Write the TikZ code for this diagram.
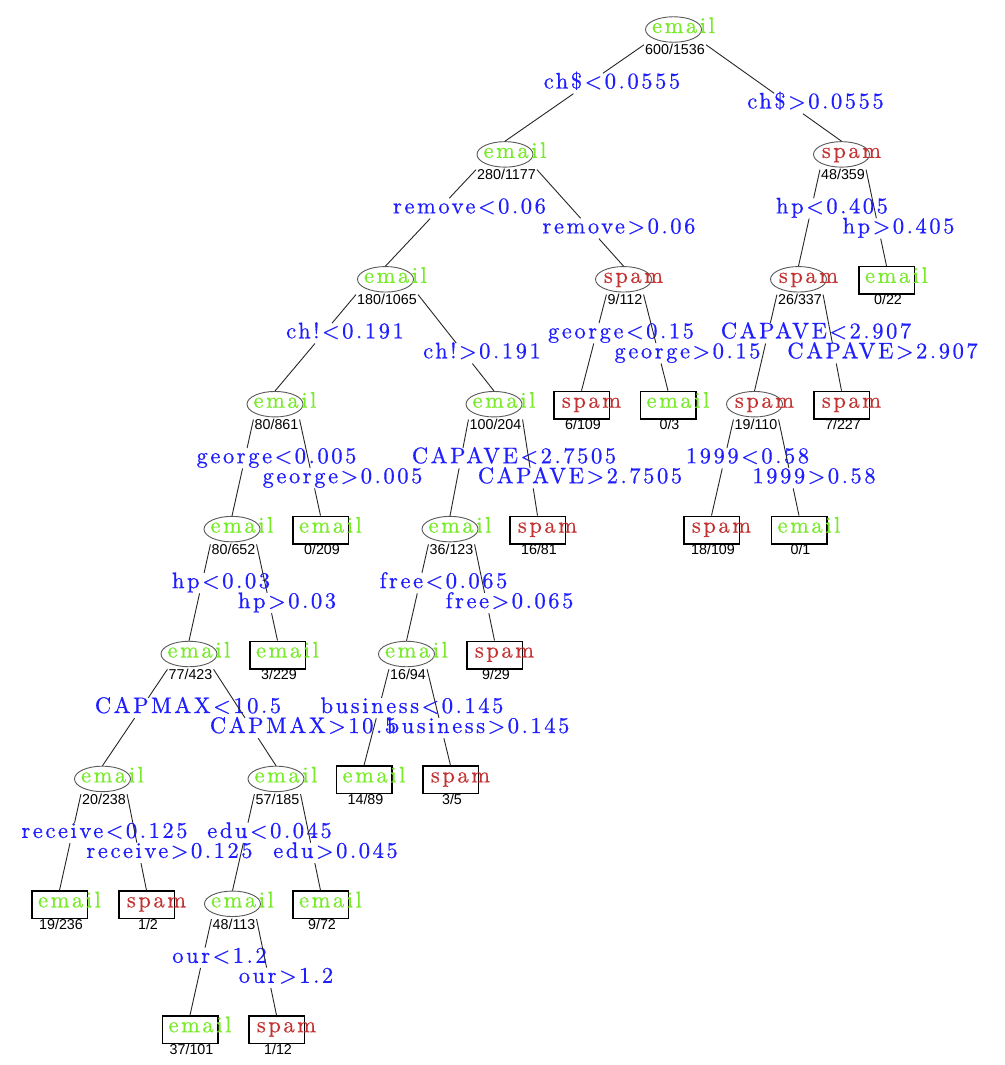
\documentclass[tikz,border=0pt]{standalone}
\usepackage{fontspec}
\usetikzlibrary{shapes.geometric}
\newfontfamily\lblfont{lmroman10-regular.otf}[LetterSpace=11.5,FakeBold=0.6]
\newfontfamily\cntfont{Liberation Sans}
\definecolor{emailc}{RGB}{120,235,40}
\definecolor{spamc}{RGB}{195,50,50}
\definecolor{lblc}{RGB}{30,30,255}
\tikzset{
  ell/.style={ellipse, draw=black!65, line width=0.9pt, fill=white, minimum width=56pt, minimum height=25.5pt, inner sep=0pt},
  leaf/.style={rectangle, draw=black, line width=1.5pt, fill=white, minimum width=55.5pt, minimum height=27.5pt, inner sep=0pt},
  emailtxt/.style={text=emailc, font=\lblfont\fontsize{22.5}{23}\selectfont, inner sep=0pt, anchor=base},
  spamtxt/.style={text=spamc, font=\lblfont\fontsize{22.5}{23}\selectfont, inner sep=0pt, anchor=base},
  cnt/.style={font=\cntfont\fontsize{14.3}{15}\selectfont, inner xsep=1pt, inner ysep=0pt, text height=10pt, text depth=0pt},
  lbl/.style={text=lblc, font=\lblfont\fontsize{22.5}{23}\selectfont, inner sep=1pt, text height=14pt, text depth=4pt, anchor=base},
  edge/.style={draw=black!85, line width=0.9pt}
}
% internal node: name, x, row, class, count
\newcommand\tenode[5]{%
  \node[ell] (#1) at ({#2},{29.5+124.9*#3}) {};
  \node[#4txt] (#1t) at ({#2+10},{33+124.9*#3}) {#4};
  \node[cnt] (#1c) at ({#2+1.5},{50+124.9*#3}) {#5};
}
% leaf node: name, x, row, class, count
\newcommand\tlnode[5]{%
  \node[leaf] (#1) at ({#2},{30.5+124.9*#3}) {};
  \node[#4txt] (#1t) at ({#2+10},{33+124.9*#3}) {#4};
  \node[cnt] (#1c) at ({#2+1.5},{50+124.9*#3}) {#5};
}
% split: parent, left child, right child, xL, xR, row, textL, textR
\newcommand\tsplit[8]{%
  \coordinate (#1la) at (#1c.north west);
  \coordinate (#1ra) at (#1c.north east);
  \coordinate (#2top) at (#2.north);
  \coordinate (#3top) at (#3.north);
  \node[lbl] (#1L) at ({#4},{88.5+124.9*#6}) {#7};
  \node[lbl] (#1R) at ({#5},{108.5+124.9*#6}) {#8};
  \coordinate (#1Lnw) at (#1L.north west);
  \coordinate (#1Lne) at (#1L.north east);
  \coordinate (#1Lsw) at (#1L.south west);
  \coordinate (#1Lse) at (#1L.south east);
  \coordinate (#1Rnw) at (#1R.north west);
  \coordinate (#1Rne) at (#1R.north east);
  \coordinate (#1Rsw) at (#1R.south west);
  \coordinate (#1Rse) at (#1R.south east);
  \draw[edge] (#1la) -- (intersection of #1la--#2top and #1Lnw--#1Lne);
  \draw[edge] (intersection of #1la--#2top and #1Lsw--#1Lse) -- (#2top);
  \draw[edge] (#1ra) -- (intersection of #1ra--#3top and #1Rnw--#1Rne);
  \draw[edge] (intersection of #1ra--#3top and #1Rsw--#1Rse) -- (#3top);
}
\begin{document}
\begin{tikzpicture}[x=1pt,y=-1pt]
\useasboundingbox (0,0) rectangle (1004,1065);
\fill[white] (0,0) rectangle (1004,1065);
\tenode{n1}{673.5}{0}{email}{600/1536}
\tenode{n2}{505}{1}{email}{280/1177}
\tenode{n3}{841.5}{1}{spam}{48/359}
\tenode{n4}{385.5}{2}{email}{180/1065}
\tenode{n5}{623.5}{2}{spam}{9/112}
\tenode{n6}{798.5}{2}{spam}{26/337}
\tlnode{n7}{886.5}{2}{email}{0/22}
\tenode{n8}{275}{3}{email}{80/861}
\tenode{n9}{494}{3}{email}{100/204}
\tlnode{n10}{581.5}{3}{spam}{6/109}
\tlnode{n11}{668}{3}{email}{0/3}
\tenode{n12}{754.5}{3}{spam}{19/110}
\tlnode{n13}{841.5}{3}{spam}{7/227}
\tenode{n14}{232}{4}{email}{80/652}
\tlnode{n15}{320.5}{4}{email}{0/209}
\tenode{n16}{450}{4}{email}{36/123}
\tlnode{n17}{537.5}{4}{spam}{16/81}
\tlnode{n18}{711.5}{4}{spam}{18/109}
\tlnode{n19}{799}{4}{email}{0/1}
\tenode{n20}{189}{5}{email}{77/423}
\tlnode{n21}{277.5}{5}{email}{3/229}
\tenode{n22}{406.5}{5}{email}{16/94}
\tlnode{n23}{494.5}{5}{spam}{9/29}
\tenode{n24}{102.5}{6}{email}{20/238}
\tenode{n25}{276}{6}{email}{57/185}
\tlnode{n26}{364}{6}{email}{14/89}
\tlnode{n27}{450.5}{6}{spam}{3/5}
\tlnode{n28}{59.5}{7}{email}{19/236}
\tlnode{n29}{146.5}{7}{spam}{1/2}
\tenode{n30}{232.5}{7}{email}{48/113}
\tlnode{n31}{320.5}{7}{email}{9/72}
\tlnode{n32}{190}{8}{email}{37/101}
\tlnode{n33}{276.5}{8}{spam}{1/12}
\tsplit{n1}{n2}{n3}{612}{815.5}{0}{ch\$<0.0555}{ch\$>0.0555}
\tsplit{n2}{n4}{n5}{469.5}{619}{1}{remove<0.06}{remove>0.06}
\tsplit{n3}{n6}{n7}{832}{898.5}{1}{hp<0.405}{hp>0.405}
\tsplit{n4}{n8}{n9}{345}{482}{2}{ch!<0.191}{ch!>0.191}
\tsplit{n5}{n10}{n11}{621}{687.5}{2}{george<0.15}{george>0.15}
\tsplit{n6}{n12}{n13}{816}{882.5}{2}{CAPAVE<2.907}{CAPAVE>2.907}
\tsplit{n8}{n14}{n15}{276.5}{342.5}{3}{george<0.005}{george>0.005}
\tsplit{n9}{n16}{n17}{514}{580}{3}{CAPAVE<2.7505}{CAPAVE>2.7505}
\tsplit{n12}{n18}{n19}{747.5}{814}{3}{1999<0.58}{1999>0.58}
\tsplit{n14}{n20}{n21}{221}{287}{4}{hp<0.03}{hp>0.03}
\tsplit{n16}{n22}{n23}{443.5}{509.5}{4}{free<0.065}{free>0.065}
\tsplit{n20}{n24}{n25}{188}{303}{5}{CAPMAX<10.5}{CAPMAX>10.5}
\tsplit{n22}{n26}{n27}{412}{478}{5}{business<0.145}{business>0.145}
\tsplit{n24}{n28}{n29}{104.5}{169.5}{6}{receive<0.125}{receive>0.125}
\tsplit{n25}{n30}{n31}{269.5}{335.5}{6}{edu<0.045}{edu>0.045}
\tsplit{n30}{n32}{n33}{219.5}{286}{7}{our<1.2}{our>1.2}
\end{tikzpicture}
\end{document}
